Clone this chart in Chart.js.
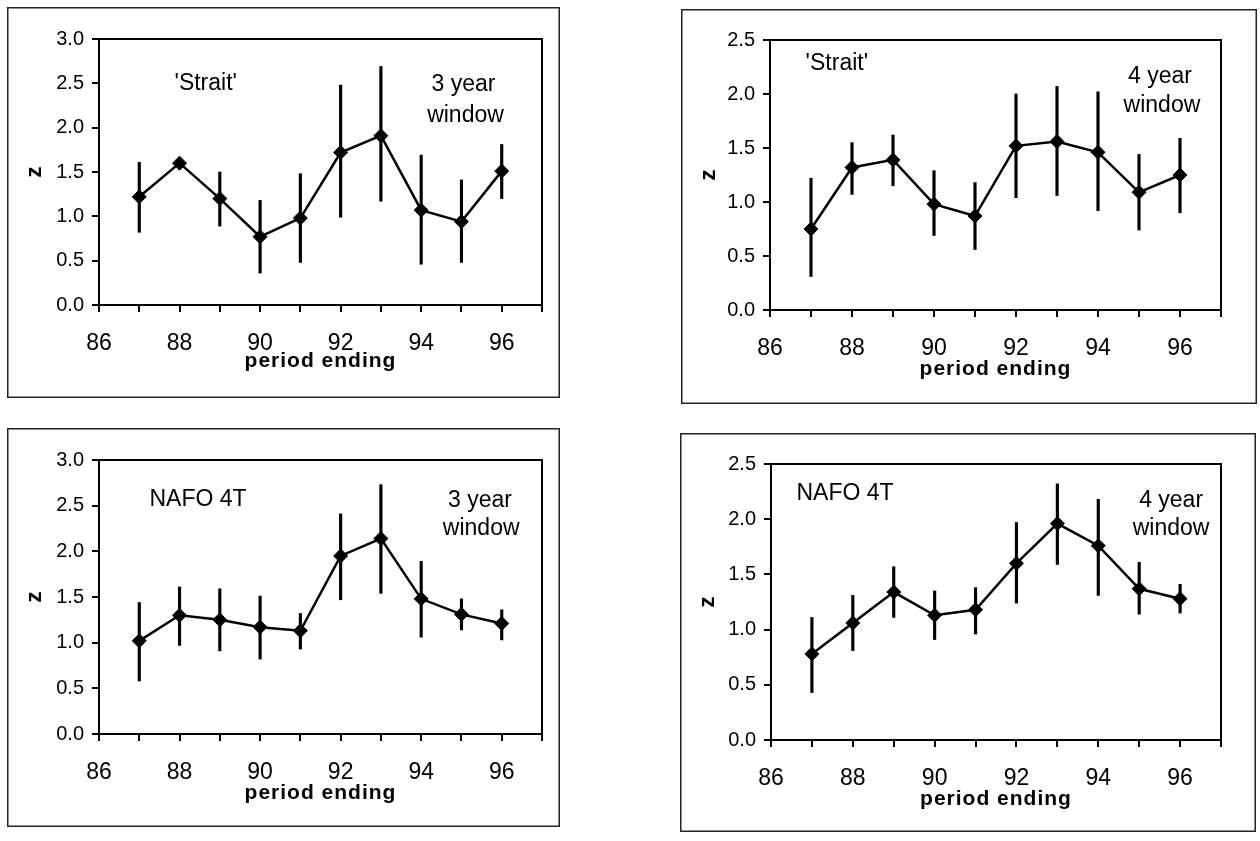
<!DOCTYPE html>
<html>
<head>
<meta charset="utf-8">
<title>Total mortality Z by period ending</title>
<script src="https://cdn.jsdelivr.net/npm/chart.js@4.4.1/dist/chart.umd.min.js"></script>
<style>
  body { margin: 0; background: #fff; }
  #page { position: relative; width: 1260px; height: 841px; overflow: hidden; }
  #page canvas { position: absolute; }
</style>
</head>
<body>
<div id="page">
  <canvas id="strait3" width="553" height="391" style="left:7px;top:7px"></canvas>
  <canvas id="strait4" width="576" height="395" style="left:681px;top:9px"></canvas>
  <canvas id="nafo3" width="553" height="399" style="left:7px;top:428px"></canvas>
  <canvas id="nafo4" width="576" height="399" style="left:680px;top:433px"></canvas>
</div>
<script>
// period ending (year, 19xx)
const periods = [87, 88, 89, 90, 91, 92, 93, 94, 95, 96];
const xTickLabels = [86, 88, 90, 92, 94, 96];

// 'Strait', 3 year window
const straitZ3    = [1.22, 1.60, 1.20, 0.77, 0.98, 1.72, 1.91, 1.07, 0.94, 1.51];
const straitLow3  = [0.82, 1.53, 0.89, 0.36, 0.48, 0.99, 1.17, 0.46, 0.48, 1.20];
const straitHigh3 = [1.61, 1.66, 1.50, 1.18, 1.48, 2.48, 2.69, 1.69, 1.41, 1.81];

// 'Strait', 4 year window
const straitZ4    = [0.75, 1.32, 1.39, 0.98, 0.87, 1.52, 1.56, 1.46, 1.09, 1.25];
const straitLow4  = [0.31, 1.07, 1.15, 0.69, 0.56, 1.04, 1.06, 0.92, 0.74, 0.90];
const straitHigh4 = [1.22, 1.55, 1.62, 1.29, 1.18, 2.00, 2.07, 2.02, 1.44, 1.59];

// NAFO 4T, 3 year window
const nafoZ3    = [1.02, 1.30, 1.25, 1.17, 1.13, 1.95, 2.14, 1.48, 1.31, 1.21];
const nafoLow3  = [0.58, 0.97, 0.91, 0.82, 0.93, 1.47, 1.54, 1.06, 1.14, 1.03];
const nafoHigh3 = [1.44, 1.61, 1.59, 1.51, 1.32, 2.41, 2.73, 1.89, 1.48, 1.36];

// NAFO 4T, 4 year window
const nafoZ4    = [0.78, 1.06, 1.34, 1.13, 1.18, 1.60, 1.96, 1.76, 1.37, 1.28];
const nafoLow4  = [0.43, 0.81, 1.11, 0.91, 0.96, 1.24, 1.59, 1.31, 1.14, 1.15];
const nafoHigh4 = [1.11, 1.31, 1.57, 1.35, 1.38, 1.97, 2.32, 2.18, 1.61, 1.41];

const FAMILY = '"Liberation Sans", Arial, Helvetica, sans-serif';

// plot frame, outer panel frame, spaced x-axis caption and in-plot captions
const panelDecor = {
  id: 'panelDecor',
  beforeDatasetsDraw(chart, args, opts) {
    const { ctx, chartArea: a, width, height } = chart;
    ctx.save();
    ctx.strokeStyle = '#000';
    ctx.lineWidth = 2;
    ctx.strokeRect(a.left, a.top, a.right - a.left, a.bottom - a.top);
    ctx.strokeStyle = '#222';
    ctx.lineWidth = 1.5;
    ctx.strokeRect(0.75, 0.75, width - 1.5, height - 1.5);

    ctx.font = 'bold 21px ' + FAMILY;
    ctx.letterSpacing = '1px';
    ctx.fillStyle = '#000';
    ctx.textAlign = 'center';
    ctx.textBaseline = 'middle';
    ctx.fillText('period ending', (a.left + a.right) / 2, a.bottom + opts.titleGap);
    ctx.restore();
  },
  afterDatasetsDraw(chart, args, opts) {
    const { ctx, scales: { x, y } } = chart;
    ctx.save();
    ctx.font = '23px ' + FAMILY;
    ctx.fillStyle = '#000';
    ctx.textAlign = 'center';
    ctx.textBaseline = 'middle';
    for (const n of opts.notes) {
      ctx.fillText(n.text, x.getPixelForValue(n.x), y.getPixelForValue(n.y));
    }
    ctx.restore();
  }
};

function drawPanel(id, z, low, high, yMax, notes, box) {
  const ctx = document.getElementById(id).getContext('2d');
  new Chart(ctx, {
    type: 'line',
    data: {
      datasets: [
        {
          type: 'line',
          data: periods.map((p, i) => ({ x: p, y: z[i] })),
          borderColor: '#000',
          borderWidth: 2.5,
          tension: 0,
          pointStyle: 'rectRot',
          pointRadius: 7,
          pointBackgroundColor: '#000',
          pointBorderColor: '#000',
          pointBorderWidth: 1,
          order: 0
        },
        {
          type: 'bar',
          data: periods.map((p, i) => ({ x: p, y: [low[i], high[i]] })),
          backgroundColor: '#000',
          barThickness: 2.5,
          order: 1
        }
      ]
    },
    options: {
      responsive: false,
      animation: false,
      events: [],
      layout: { padding: { top: box.top, right: box.right, left: 0, bottom: 0 } },
      plugins: {
        legend: { display: false },
        tooltip: { enabled: false },
        panelDecor: { notes, titleGap: box.titleGap }
      },
      scales: {
        x: {
          type: 'linear',
          min: 86,
          max: 97,
          offset: false,
          afterFit: s => { s.height = box.xAxis; },
          grid: { drawOnChartArea: false, drawTicks: true, tickLength: 7, color: '#000', lineWidth: 2, offset: false },
          border: { color: '#000', width: 2 },
          ticks: {
            stepSize: 1,
            autoSkip: false,
            maxRotation: 0,
            padding: 18,
            color: '#000',
            font: { size: 23, family: FAMILY },
            callback: v => (xTickLabels.includes(v) ? String(v) : '')
          }
        },
        y: {
          min: 0,
          max: yMax,
          afterFit: s => { s.width = box.yAxis; },
          grid: { drawOnChartArea: false, drawTicks: true, tickLength: 7, color: '#000', lineWidth: 2 },
          border: { color: '#000', width: 2 },
          ticks: {
            stepSize: 0.5,
            padding: 8,
            color: '#000',
            font: { size: 20, family: FAMILY },
            callback: v => v.toFixed(1)
          },
          title: {
            display: true,
            text: 'z',
            color: '#000',
            font: { size: 22, weight: 'bold', family: FAMILY },
            padding: { top: 15, bottom: 0 }
          }
        }
      }
    },
    plugins: [panelDecor]
  });
}

drawPanel('strait3', straitZ3, straitLow3, straitHigh3, 3.0, [
  { text: "'Strait'", x: 88.65, y: 2.50 },
  { text: '3 year', x: 95.05, y: 2.48 },
  { text: 'window', x: 95.1, y: 2.13 }
], { top: 32, right: 8, yAxis: 92, xAxis: 93, titleGap: 56 });

drawPanel('strait4', straitZ4, straitLow4, straitHigh4, 2.5, [
  { text: "'Strait'", x: 87.63, y: 2.28 },
  { text: '4 year', x: 95.51, y: 2.16 },
  { text: 'window', x: 95.56, y: 1.89 }
], { top: 31, right: 36, yAxis: 89, xAxis: 94, titleGap: 59 });

drawPanel('nafo3', nafoZ3, nafoLow3, nafoHigh3, 3.0, [
  { text: 'NAFO 4T', x: 88.46, y: 2.57 },
  { text: '3 year', x: 95.46, y: 2.56 },
  { text: 'window', x: 95.49, y: 2.25 }
], { top: 32, right: 10, yAxis: 92, xAxis: 93, titleGap: 59 });

drawPanel('nafo4', nafoZ4, nafoLow4, nafoHigh4, 2.5, [
  { text: 'NAFO 4T', x: 87.81, y: 2.23 },
  { text: '4 year', x: 95.78, y: 2.17 },
  { text: 'window', x: 95.78, y: 1.91 }
], { top: 31, right: 35, yAxis: 91, xAxis: 92, titleGap: 59 });
</script>
</body>
</html>
